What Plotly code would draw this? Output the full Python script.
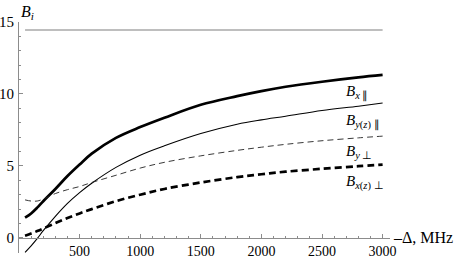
import plotly.graph_objects as go

# Detuning (MHz)
delta = [50, 100, 150, 200, 300, 400, 500, 600, 800, 1000, 1200, 1500, 1800, 2000, 2200, 2500, 2800, 3000]

# Curves B_i(Δ)
b_x_par = [1.4, 1.7, 2.1, 2.55, 3.4, 4.3, 5.1, 5.85, 6.95, 7.7, 8.35, 9.25, 9.85, 10.2, 10.5, 10.85, 11.15, 11.32]
b_yz_par = [-1.0, -0.55, -0.05, 0.5, 1.5, 2.4, 3.15, 3.8, 4.9, 5.75, 6.4, 7.25, 7.9, 8.2, 8.45, 8.85, 9.15, 9.37]
b_y_perp = [2.64, 2.56, 2.56, 2.7, 3.08, 3.35, 3.57, 3.85, 4.35, 4.85, 5.25, 5.7, 6.08, 6.3, 6.5, 6.75, 6.95, 7.07]
b_xz_perp = [0.15, 0.3, 0.47, 0.65, 1.03, 1.38, 1.7, 2.0, 2.55, 3.0, 3.4, 3.85, 4.22, 4.42, 4.6, 4.8, 4.98, 5.09]
ref_delta = [50, 3000]
ref_level = [14.44, 14.44]

x_ticks = [500, 1000, 1500, 2000, 2500, 3000]
y_ticks = [0, 5, 10, 15]

curve_labels = ["<i>B</i><sub><i>x</i> ∥</sub>",
                "<i>B</i><sub><i>y</i>(<i>z</i>) ∥</sub>",
                "<i>B</i><sub><i>y</i> ⊥</sub>",
                "<i>B</i><sub><i>x</i>(<i>z</i>) ⊥</sub>"]
label_y = [10.1, 8.1, 6.0, 3.85]

FONT = "Liberation Serif"
AX = "#8c8c8c"

fig = go.Figure()
fig.add_trace(go.Scatter(x=ref_delta, y=ref_level, mode="lines",
                         line=dict(color="#a8a8a8", width=1.6)))
fig.add_trace(go.Scatter(x=delta, y=b_x_par, mode="lines",
                         line=dict(color="black", width=2.7, shape="spline")))
fig.add_trace(go.Scatter(x=delta, y=b_yz_par, mode="lines",
                         line=dict(color="black", width=1.1, shape="spline")))
fig.add_trace(go.Scatter(x=delta, y=b_y_perp, mode="lines",
                         line=dict(color="#222222", width=0.9, shape="spline", dash="6px,4px")))
fig.add_trace(go.Scatter(x=delta, y=b_xz_perp, mode="lines",
                         line=dict(color="black", width=2.7, shape="spline", dash="7px,4px")))

y_min, y_max = -1.05, 15.0
fig.update_layout(
    width=464, height=259,
    margin=dict(l=19, r=74, t=22, b=6, autoexpand=False),
    paper_bgcolor="white", plot_bgcolor="white",
    showlegend=False,
    font=dict(family=FONT, size=15, color="black"),
    xaxis=dict(range=[0, 3061], showgrid=False, zeroline=False, automargin=False,
               showline=True, linecolor=AX, linewidth=1,
               anchor="free", position=(0 - y_min) / (y_max - y_min),
               tickvals=x_ticks, ticks="inside", ticklen=4, tickcolor=AX,
               minor=dict(ticks="inside", ticklen=2, dtick=100, tick0=0, tickcolor=AX),
               tickfont=dict(family=FONT, size=14, color="black")),
    yaxis=dict(range=[y_min, y_max], showgrid=False, zeroline=False, automargin=False,
               showline=True, linecolor=AX, linewidth=1,
               tickvals=y_ticks, ticks="inside", ticklen=4, tickcolor=AX,
               ticklabelstandoff=1,
               minor=dict(ticks="inside", ticklen=2, dtick=1, tick0=0, tickcolor=AX),
               tickfont=dict(family=FONT, size=15, color="black")),
)

for txt, yy in zip(curve_labels, label_y):
    fig.add_annotation(x=2678, y=yy, xref="x", yref="y", text=txt, showarrow=False,
                       xanchor="left", yanchor="middle",
                       font=dict(family=FONT, size=15, color="black"))

fig.add_annotation(x=1.0, y=0, xref="paper", yref="y", text="–Δ, MHz", showarrow=False,
                   xanchor="left", yanchor="middle", xshift=1,
                   font=dict(family=FONT, size=16, color="black"))
fig.add_annotation(x=0, y=1, xref="paper", yref="paper", text="<i>B</i><sub><i>i</i></sub>",
                   showarrow=False, xanchor="left", yanchor="bottom", yshift=-2,
                   font=dict(family=FONT, size=16, color="black"))

fig.write_html("out.html", config={"displayModeBar": False},
               post_script="document.body.style.margin='0px';document.body.style.overflow='hidden';")
